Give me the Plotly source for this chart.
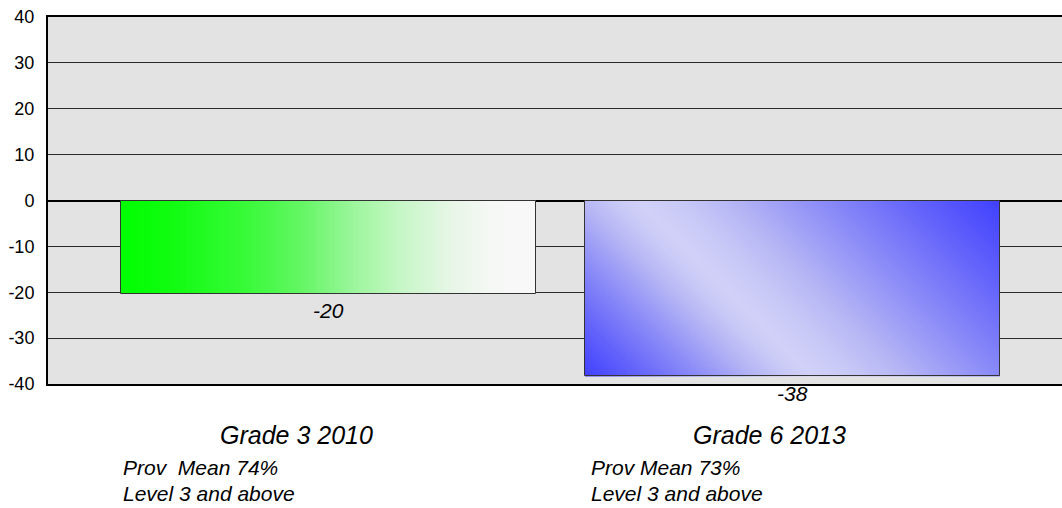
import numpy as np
import plotly.graph_objects as go

# ---- data ----
categories = ["Grade 3 2010", "Grade 6 2013"]
sub_line1 = ["Prov  Mean 74%", "Prov Mean 73%"]
sub_line2 = ["Level 3 and above", "Level 3 and above"]
values = [-20.3, -38.3]
y_ticks = [40, 30, 20, 10, 0, -10, -20, -30, -40]

# ---- layout constants (positions on a 0..2 x axis) ----
BAR_LEFT = [0.144, 1.059]
BAR_RIGHT = [0.9625, 1.878]
SUB_LEFT = [0.144, 1.067]
CAT_CENTER = [0.49, 1.424]

FONT = "Liberation Sans, Arial, sans-serif"

fig = go.Figure()

NX, NY = 240, 100

# green horizontal gradient for bar 1
def green_bar(left, right, val):
    xe = np.linspace(left, right, NX + 1)
    ye = np.linspace(0, val, NY + 1)
    fx = (np.arange(NX) + 0.5) / NX
    z = np.tile(fx, (NY, 1))
    return go.Heatmap(
        x=xe, y=ye, z=z, zmin=0, zmax=1, showscale=False, hoverinfo="skip",
        colorscale=[[0, "#00ff00"], [0.12, "#10fc10"], [0.3, "#38fa38"],
                    [0.44, "#66f666"], [0.57, "#a0f6a0"], [0.68, "#c8f6c8"],
                    [0.8, "#e8f6e8"], [0.9, "#f6f8f6"], [1, "#f8f8f8"]])

# blue reflected diagonal gradient for bar 2
def blue_bar(left, right, val):
    xe = np.linspace(left, right, NX + 1)
    ye = np.linspace(0, val, NY + 1)
    W, H = 415.0, 175.0
    fx = (np.arange(NX) + 0.5) / NX
    fy = (np.arange(NY) + 0.5) / NY  # 0 at top (y=0), 1 at bottom
    FX, FY = np.meshgrid(fx, fy)
    u = FX * W - FY * H
    peak = 53.0
    z = np.where(u < peak, (u + H) / (peak + H), (W - u) / (W - peak))
    z = np.clip(z, 0, 1)
    return go.Heatmap(
        x=xe, y=ye, z=z, zmin=0, zmax=1, showscale=False, hoverinfo="skip",
        colorscale=[[0, "#4040ff"], [0.25, "#6464fb"], [0.5, "#8c8cf8"],
                    [0.75, "#b6b6f5"], [0.9, "#cacaf7"], [1, "#d0d0f8"]])

fig.add_trace(green_bar(BAR_LEFT[0], BAR_RIGHT[0], values[0]))
fig.add_trace(blue_bar(BAR_LEFT[1], BAR_RIGHT[1], values[1]))

# bar outlines
centers = [(l + r) / 2 for l, r in zip(BAR_LEFT, BAR_RIGHT)]
widths = [r - l for l, r in zip(BAR_LEFT, BAR_RIGHT)]
fig.add_trace(go.Bar(
    x=centers, y=values, width=widths,
    marker=dict(color="rgba(0,0,0,0)", line=dict(color="#333333", width=1)),
    hoverinfo="skip", showlegend=False))

annotations = []
for c, v in zip(centers, values):
    annotations.append(dict(
        x=c, y=v, xref="x", yref="y", text=f"<i>{round(v):d}</i>", showarrow=False,
        yshift=-17, xanchor="center", yanchor="middle",
        font=dict(family=FONT, size=21, color="#000000")))

for cx, cat in zip(CAT_CENTER, categories):
    annotations.append(dict(
        x=cx, y=435, xref="x", yref="paper", text=f"<i>{cat}</i>",
        showarrow=False, xanchor="center", yanchor="middle",
        font=dict(family=FONT, size=25, color="#000000")))

for sx, l1, l2 in zip(SUB_LEFT, sub_line1, sub_line2):
    for txt, ypx in ((l1, 467), (l2, 493)):
        annotations.append(dict(
            x=sx, y=ypx, xref="x", yref="paper", text=f"<i>{txt}</i>",
            showarrow=False, xanchor="left", yanchor="middle",
            font=dict(family=FONT, size=21, color="#000000")))

# convert pixel y positions of label annotations into paper coords
TOP, BOTTOM = 17, 384
for a in annotations:
    if a["yref"] == "paper":
        a["y"] = (BOTTOM - a["y"]) / (BOTTOM - TOP)

fig.update_layout(
    width=1062, height=508,
    margin=dict(l=48, r=0, t=TOP, b=508 - BOTTOM, pad=0),
    paper_bgcolor="#ffffff", plot_bgcolor="#e3e3e3",
    showlegend=False, annotations=annotations,
    font=dict(family=FONT, size=18, color="#000000"),
    bargap=0,
)
fig.update_xaxes(
    range=[0, 2], showgrid=False, zeroline=False, showticklabels=False,
    showline=True, linecolor="#000000", linewidth=2, mirror=True, ticks="",
    fixedrange=True)
fig.update_yaxes(
    range=[-40, 40], tickvals=y_ticks, ticktext=[str(t) for t in y_ticks],
    showgrid=True, gridcolor="#2a2a2a", gridwidth=1,
    zeroline=True, zerolinecolor="#000000", zerolinewidth=2,
    showline=True, linecolor="#000000", linewidth=2, mirror=False,
    ticks="", ticklen=0, ticklabelstandoff=8,
    tickfont=dict(family=FONT, size=18, color="#000000"),
    fixedrange=True)

fig.write_html(
    "out.html",
    config={"displayModeBar": False},
    post_script="document.body.style.margin='0';document.body.style.overflow='hidden';",
)
